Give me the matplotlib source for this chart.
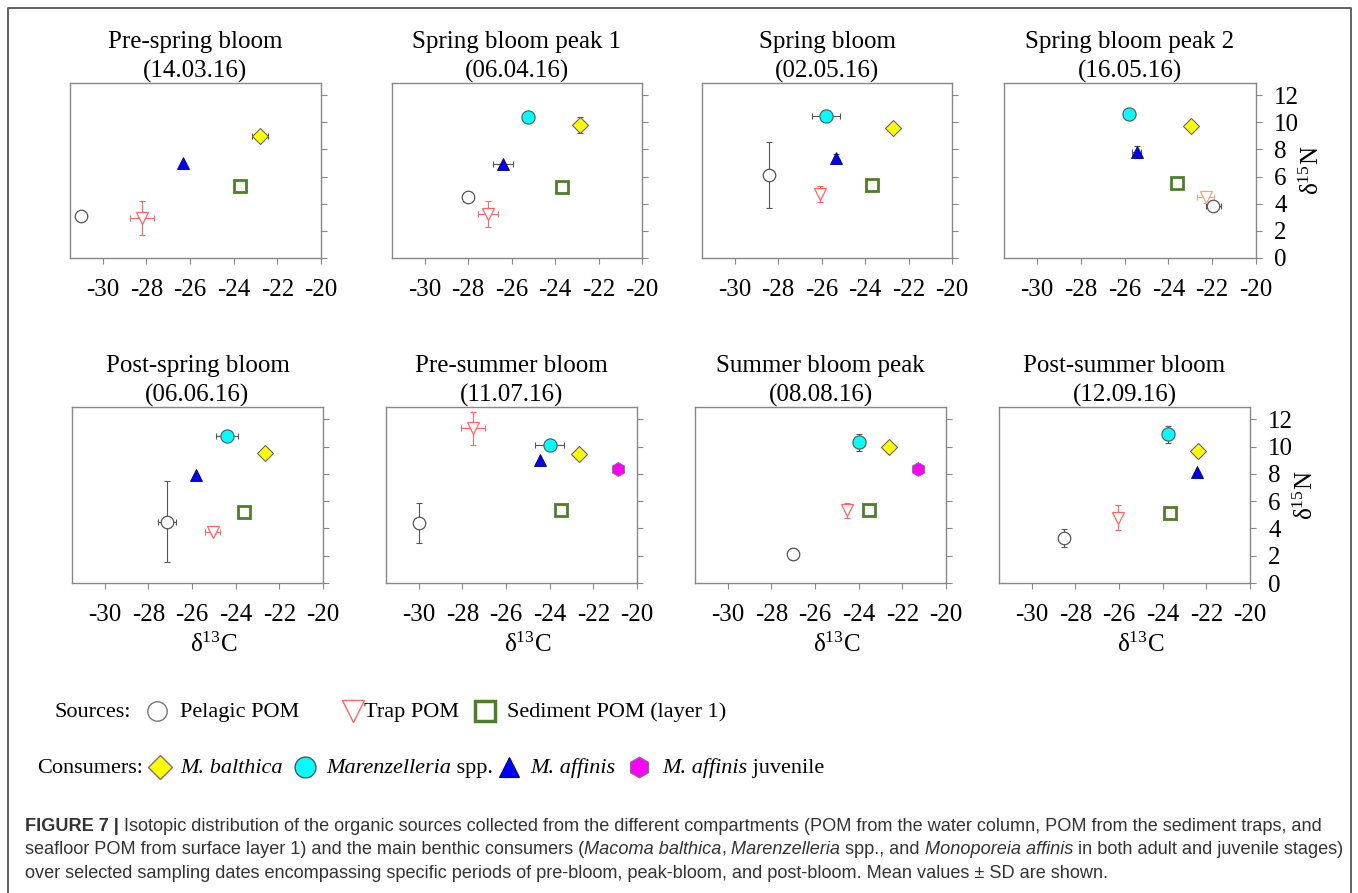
import matplotlib
matplotlib.use("Agg")
import matplotlib.pyplot as plt
import numpy as np

W, H = 1358, 893
nan = np.nan

# panels
titles = ["Pre-spring bloom", "Spring bloom peak 1", "Spring bloom", "Spring bloom peak 2",
          "Post-spring bloom", "Pre-summer bloom", "Summer bloom peak", "Post-summer bloom"]
dates = ["14.03.16", "06.04.16", "02.05.16", "16.05.16",
         "06.06.16", "11.07.16", "08.08.16", "12.09.16"]

# sources (mean d13C, mean d15N, SDs)
pel_x = [-31.0, -28.0, -28.4, -21.95, -27.15, -30.0, -27.0, -28.5]
pel_y = [3.1, 4.5, 6.1, 3.85, 4.5, 4.4, 2.1, 3.3]
pel_xsd = [0, 0, 0.2, 0.35, 0.43, 0, 0, 0]
pel_ysd = [0, 0, 2.45, 0, 2.95, 1.45, 0.45, 0.65]

trap_x = [-28.2, -27.1, -26.05, -22.3, -25.05, -27.5, -24.55, -26.05]
trap_y = [2.95, 3.25, 4.7, 4.5, 3.75, 11.35, 5.35, 4.8]
trap_xsd = [0.56, 0.46, 0, 0.4, 0.34, 0.55, 0, 0]
trap_ysd = [1.28, 0.96, 0.6, 0.42, 0.15, 1.2, 0.55, 0.95]

sed_x = [-23.7, -23.7, -23.7, -23.6, -23.6, -23.5, -23.55, -23.65]
sed_y = [5.3, 5.2, 5.35, 5.55, 5.2, 5.35, 5.35, 5.15]

# consumers
bal_x = [-22.8, -22.85, -22.7, -22.95, -22.65, -22.65, -22.6, -22.4]
bal_y = [9.0, 9.8, 9.6, 9.7, 9.5, 9.45, 10.0, 9.7]
bal_xsd = [0.36, 0, 0, 0, 0, 0, 0, 0]
bal_ysd = [0, 0.62, 0, 0, 0, 0, 0, 0]

mar_x = [nan, -25.25, -25.8, -25.8, -24.4, -24.0, -24.0, -23.75]
mar_y = [nan, 10.4, 10.45, 10.6, 10.8, 10.1, 10.3, 10.9]
mar_xsd = [0, 0, 0.66, 0, 0.5, 0.67, 0, 0.2]
mar_ysd = [0, 0, 0, 0, 0, 0, 0.6, 0.62]

aff_x = [-26.3, -26.4, -25.35, -25.45, -25.8, -24.45, nan, -22.45]
aff_y = [7.0, 6.9, 7.4, 7.8, 7.9, 9.0, nan, 8.15]
aff_xsd = [0, 0.47, 0, 0.2, 0, 0, 0, 0]
aff_ysd = [0, 0, 0.25, 0.45, 0, 0, 0, 0]

juv_x = [nan, nan, nan, nan, nan, -20.85, -21.3, nan]
juv_y = [nan, nan, nan, nan, nan, 8.35, 8.35, nan]
zeros = [0] * 8

trap_col = ["#ff6666", "#ff6666", "#ff6666", "#ffa07a", "#ff6666", "#ff6666", "#ff6666", "#ff6666"]

plt.rcParams["font.family"] = ["Liberation Serif", "DejaVu Serif"]
plt.rcParams["mathtext.fontset"] = "custom"
plt.rcParams["mathtext.rm"] = "Liberation Serif"
plt.rcParams["mathtext.it"] = "Liberation Serif:italic"
plt.rcParams["axes.unicode_minus"] = False

fig = plt.figure(figsize=(W / 100, H / 100), dpi=100)
bg = fig.add_axes([0, 0, 1, 1])
bg.set_xlim(0, W)
bg.set_ylim(H, 0)
bg.axis("off")
bg.plot([8, 8, 1351, 1351], [H + 5, 8, 8, H + 5], color="#555555", lw=1.3, clip_on=False)

# axes boxes in pixels: left, right, top, bottom
boxes = [(70, 321, 83, 258), (392, 642, 83, 258), (702, 952, 83, 258), (1004, 1256, 83, 258),
         (72, 323, 407, 583), (386, 637, 407, 583), (695, 946, 407, 583), (999, 1250, 407, 583)]

styles = [
    (pel_x, pel_y, pel_xsd, pel_ysd, "#555555", dict(marker="o", ms=9, mfc="white", mec="#555555", mew=0.9)),
    (trap_x, trap_y, trap_xsd, trap_ysd, None, dict(marker="v", ms=9, mfc="white", mew=0.9)),
    (sed_x, sed_y, zeros, zeros, "#555555", dict(marker="s", ms=8.5, mfc="white", mec="#4e7d2b", mew=2)),
    (bal_x, bal_y, bal_xsd, bal_ysd, "#555555", dict(marker="D", ms=8, mfc="#ffff00", mec="#666666", mew=0.8)),
    (mar_x, mar_y, mar_xsd, mar_ysd, "#555555", dict(marker="o", ms=9.5, mfc="#00ffff", mec="#555555", mew=0.8)),
    (aff_x, aff_y, aff_xsd, aff_ysd, "#555555", dict(marker="^", ms=9, mfc="#0000ff", mec="#000060", mew=0.6)),
    (juv_x, juv_y, zeros, zeros, "#555555", dict(marker="h", ms=10, mfc="#ff00ff", mec="#777777", mew=0.6)),
]

for i, (l, r, t, b) in enumerate(boxes):
    ax = fig.add_axes([l / W, 1 - b / H, (r - l) / W, (b - t) / H])
    for xs, ys, xsd, ysd, ecol, st in styles:
        if np.isnan(xs[i]):
            continue
        col = ecol if ecol else trap_col[i]
        st = dict(st)
        if ecol is None:
            st["mec"] = trap_col[i]
        ax.errorbar(xs[i], ys[i], xerr=xsd[i], yerr=ysd[i], fmt="none", ecolor=col,
                    elinewidth=0.8, capsize=2.5, capthick=0.8, zorder=2)
        ax.plot(xs[i], ys[i], ls="none", zorder=3, **st)
    ax.set_xlim(-31.5, -20)
    ax.set_ylim(0, 12.9)
    ax.set_xticks(np.arange(-30, -19, 2))
    ax.set_yticks(np.arange(0, 13, 2))
    ax.yaxis.tick_right()
    ax.tick_params(direction="out", length=4, width=0.8, color="#888888", labelsize=18)
    ax.tick_params(axis="x", pad=11)
    ax.tick_params(axis="y", pad=9, labelright=(i % 4 == 3))
    for sp in ax.spines.values():
        sp.set_color("#888888")
        sp.set_linewidth(1)
    ax.set_title(f"{titles[i]}\n({dates[i]})", fontsize=18, pad=3, linespacing=1.4)
    if i % 4 == 3:
        ax.text(1 + 56 / (r - l), 0.5, "δ$^{\\mathregular{15}}$N", transform=ax.transAxes,
                rotation=90, ha="center", va="center", fontsize=18)
    if i >= 4:
        ax.text(0.565, -62 / (b - t), "δ$^{\\mathregular{13}}$C", transform=ax.transAxes,
                ha="center", va="center", fontsize=18)

renderer = fig.canvas.get_renderer()


def runs(x, y, parts, size, family, color="black"):
    # draw text pieces one after another, return end x
    for s, style, weight in parts:
        t = bg.text(x, y, s, fontsize=size, family=family, style=style, weight=weight,
                    color=color, ha="left", va="baseline")
        x = t.get_window_extent(renderer).x1
    return x


# legend
ser = ["Liberation Serif"]
ly1, ly2 = 711, 767
runs(55, ly1 + 6, [("Sources:", "normal", "normal")], 16, ser)
bg.plot(157, ly1, marker="o", ms=14, mfc="white", mec="#777777", mew=1)
runs(180, ly1 + 6, [("Pelagic POM", "normal", "normal")], 16, ser)
bg.plot(353, ly1, marker="v", ms=16, mfc="white", mec="#ff6666", mew=1)
runs(364, ly1 + 6, [("Trap POM", "normal", "normal")], 16, ser)
bg.plot(485, ly1, marker="s", ms=14, mfc="white", mec="#4e7d2b", mew=2.5)
runs(507, ly1 + 6, [("Sediment POM (layer 1)", "normal", "normal")], 16, ser)

runs(37, ly2 + 6, [("Consumers:", "normal", "normal")], 16, ser)
bg.plot(160, ly2, marker="D", ms=12, mfc="#ffff00", mec="#777777", mew=1)
runs(180, ly2 + 6, [("M. balthica", "italic", "normal")], 16, ser)
bg.plot(305, ly2, marker="o", ms=15, mfc="#00ffff", mec="#555555", mew=1)
runs(326, ly2 + 6, [("Marenzelleria", "italic", "normal"), (" spp.", "normal", "normal")], 16, ser)
bg.plot(509, ly2, marker="^", ms=15, mfc="#0000ff", mec="#000060", mew=0.8)
runs(530, ly2 + 6, [("M. affinis", "italic", "normal")], 16, ser)
bg.plot(639, ly2, marker="h", ms=15, mfc="#ff00ff", mec="#777777", mew=0.8)
runs(662, ly2 + 6, [("M. affinis", "italic", "normal"), (" juvenile", "normal", "normal")], 16, ser)

# caption
sans = ["Liberation Sans", "DejaVu Sans"]
cap1 = [("FIGURE 7 |", "normal", "bold"),
        (" Isotopic distribution of the organic sources collected from the different compartments "
         "(POM from the water column, POM from the sediment traps, and", "normal", "normal")]
cap2 = [("seafloor POM from surface layer 1) and the main benthic consumers (", "normal", "normal"),
        ("Macoma balthica", "italic", "normal"), (",", "normal", "normal"),
        (" Marenzelleria", "italic", "normal"), (" spp., and", "normal", "normal"),
        (" Monoporeia affinis", "italic", "normal"),
        (" in both adult and juvenile stages)", "normal", "normal")]
cap3 = [("over selected sampling dates encompassing specific periods of pre-bloom, peak-bloom, "
         "and post-bloom. Mean values \u00b1 SD are shown.", "normal", "normal")]

n0 = len(bg.texts)
end = runs(25, 831, cap1, 12, sans)
for t in bg.texts[n0:]:
    t.remove()
cs = 12 * (1332 - 25) / (end - 25)
runs(25, 831, cap1, cs, sans, "#333333")
runs(25, 854, cap2, cs, sans, "#333333")
runs(25, 878, cap3, cs, sans, "#333333")

fig.savefig("out.png", dpi=100)
